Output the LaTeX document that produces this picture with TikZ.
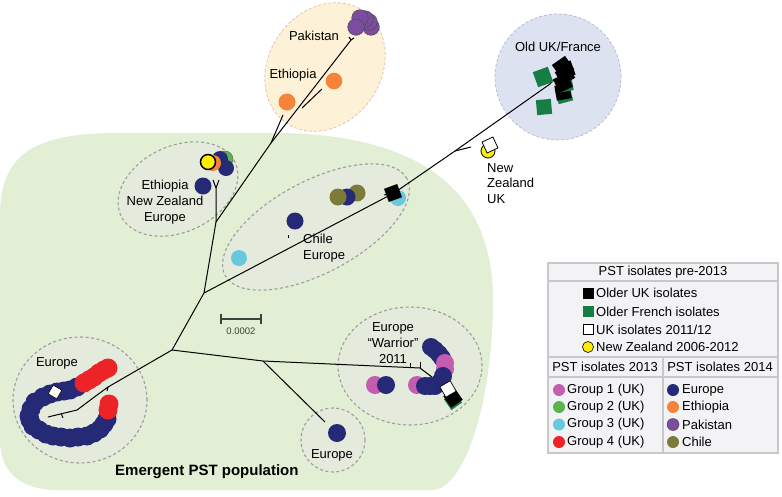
\documentclass[tikz,border=0pt]{standalone}
\usepackage{fontspec}
\setmainfont{Liberation Sans}
\definecolor{bggreen}{RGB}{226,239,212}
\definecolor{ellfill}{RGB}{228,234,220}
\definecolor{ellline}{RGB}{155,158,155}
\definecolor{pakfill}{RGB}{253,242,215}
\definecolor{pakline}{RGB}{232,185,175}
\definecolor{ukfill}{RGB}{221,226,240}
\definecolor{ukline}{RGB}{180,186,210}
\definecolor{cblue}{RGB}{38,42,118}
\definecolor{cred}{RGB}{236,36,40}
\definecolor{cpink}{RGB}{196,92,176}
\definecolor{cgreen}{RGB}{92,180,78}
\definecolor{ccyan}{RGB}{104,200,220}
\definecolor{corange}{RGB}{245,132,56}
\definecolor{cpurple}{RGB}{124,76,160}
\definecolor{colive}{RGB}{124,124,56}
\definecolor{csqgreen}{RGB}{22,126,66}
\definecolor{cyellow}{RGB}{255,238,0}
\definecolor{legfill}{RGB}{243,242,245}
\definecolor{legline}{RGB}{200,200,204}
\definecolor{scalec}{RGB}{58,68,58}
\begin{document}
\begin{tikzpicture}[x=1pt,y=-1pt,
  tree/.style={line width=1pt,black},
  grp/.style={draw=ellline,dash pattern=on 3pt off 2.5pt,line width=1.1pt,fill=ellfill},
  lab/.style={font=\fontsize{13}{15}\selectfont,inner sep=0pt},
  sqm/.style={rectangle,inner sep=0pt,minimum size=#1},
  sqm/.default=15pt]
\useasboundingbox (0,0) rectangle (782,496);
% background population
\fill[bggreen] (0,215) .. controls (0,150) and (40,133) .. (120,133) -- (280,133)
  .. controls (420,135) and (493,190) .. (493,300)
  .. controls (493,400) and (465,490) .. (432,490) -- (58,490)
  .. controls (18,490) and (0,470) .. (0,440) -- cycle;
% group outlines
\draw[grp,rotate around={25:(178,189)}] (178,189) ellipse [x radius=63pt,y radius=43pt];
\draw[grp,rotate around={28:(316,227)}] (316,227) ellipse [x radius=103pt,y radius=46pt];
\draw[grp] (80,400) ellipse [x radius=67pt,y radius=63pt];
\draw[grp] (410,366) ellipse [x radius=72pt,y radius=59pt];
\draw[grp] (333,440) circle (32pt);
\draw[draw=pakline,fill=pakfill,dash pattern=on 3pt off 2pt,line width=0.7pt,rotate around={55:(325,67)}] (325,67) ellipse [x radius=68pt,y radius=56pt];
\draw[draw=ukline,fill=ukfill,dash pattern=on 3pt off 2pt,line width=0.7pt] (558,77) circle (63pt);
% tree coordinates
\coordinate (A) at (172,350);
\coordinate (B) at (204,293);
\coordinate (D) at (216,222);
\coordinate (Dt) at (216,188);
\coordinate (J1) at (271,143);
\coordinate (E1) at (283,115);
\coordinate (Br1) at (302,108);
\coordinate (Br1e) at (322,89);
\coordinate (P) at (351,40);
\coordinate (X) at (394,193);
\coordinate (N) at (455,151);
\coordinate (Ne) at (471,147);
\coordinate (O) at (550,84);
\coordinate (F) at (263,361);
\coordinate (W) at (420,368);
\coordinate (We) at (432,377);
\coordinate (S) at (325,422);
\coordinate (L1) at (108,387);
\coordinate (L2) at (93,398);
\coordinate (L3) at (77,410);
\coordinate (L4) at (48,417);
% tree
\draw[tree] (A) -- (B) -- (D) -- (Dt);
\draw[tree] (Dt) -- ++(-3,-8);
\draw[tree] (Dt) -- ++(3,-8);
\draw[tree] (D) -- (J1) -- (E1);
\draw[tree] (J1) -- (P);
\draw[tree] (P) -- ++(-2,-3);
\draw[tree] (P) -- ++(3,-2);
\draw[tree] (Br1) -- (Br1e);
\draw[tree] (B) -- (X) -- (N) -- (O);
\draw[tree] (N) -- (Ne);
\draw[tree] (O) -- ++(4,-4);
\draw[tree] (X) -- ++(-10,2);
\draw[tree] (A) -- (F) -- (W) -- (We);
\draw[tree] (W) -- ++(0,-6);
\draw[tree] (410,367.3) -- ++(0,-4);
\draw[tree] (F) -- (S);
\draw[tree] (A) -- (L1) -- (L2) -- (L3) -- (L4);
\draw[tree] (L1) -- ++(-1,4);
\draw[tree] (61,413) -- ++(2,5);
\draw[tree] (288,238) -- ++(0,-3);
% scale bar
\coordinate (sb1) at (221,319);
\coordinate (sb2) at (261,319);
\draw[scalec,line width=1.2pt] (sb1) -- (sb2);
\draw[scalec,line width=1.2pt] (sb1) ++(0,-5) -- ++(0,10);
\draw[scalec,line width=1.2pt] (sb2) ++(0,-5) -- ++(0,10);
\node[inner sep=0pt,text=scalec,font=\fontsize{9.5}{11}\selectfont] (sbl) at (241,331) {0.0002};
% Pakistan / Ethiopia markers
\foreach \x/\y in {371/27,369/22,365/19,360/18,356/27}
  \filldraw[fill=cpurple,draw=black!70,line width=0.5pt] (\x,\y) circle (8.3pt);
\fill[corange] (334,81) circle (8.3pt);
\fill[corange] (287,102) circle (8.5pt);
\node[lab] (tPak) at (314,36) {Pakistan};
\node[lab] (tEth) at (293,75) {Ethiopia};
% Old UK / France
\node[sqm=16pt,fill=csqgreen,rotate=20] (g1) at (543,77) {};
\node[sqm=15pt,fill=csqgreen,rotate=5] (g2) at (544,107) {};
\node[sqm=15pt,fill=csqgreen,rotate=15] (g3) at (564,95) {};
\node[sqm=15pt,fill=black,rotate=10] (k5) at (563,92) {};
\node[sqm=15pt,fill=csqgreen,rotate=10] (g4) at (565,84) {};
\node[sqm=15pt,fill=black,rotate=25] (k4) at (563,83) {};
\node[sqm=15pt,fill=black,rotate=30] (k3) at (565,75) {};
\node[sqm=16pt,fill=black,rotate=35] (k2) at (563,67) {};
\node[sqm=15pt,fill=black,rotate=20] (k1) at (566,70) {};
\node[lab] (tOld) at (558,47) {Old UK/France};
% New Zealand / UK
\filldraw[fill=cyellow,draw=black,line width=0.8pt] (488,151) circle (7pt);
\node[sqm=12pt,fill=white,draw=black,line width=0.8pt,rotate=25] (w1) at (490,145) {};
\node[lab,align=left,anchor=north west,font=\fontsize{13}{15.5}\selectfont] (tNZ) at (487,163) {New\\Zealand\\UK};
% Ethiopia / NZ / Europe group
\filldraw[fill=cgreen,draw=black!60,line width=0.5pt] (225,159) circle (8pt);
\fill[cblue] (226,168) circle (8pt);
\fill[cblue] (220,159) circle (8pt);
\fill[corange] (213,163) circle (8pt);
\filldraw[fill=cyellow,draw=black,line width=1.5pt] (208,162) circle (7.5pt);
\fill[cblue] (203,186) circle (8.5pt);
\node[lab,align=center,font=\fontsize{13}{15.7}\selectfont] (tENE) at (165,202) {Ethiopia\\New Zealand\\Europe};
% Chile / Europe group
\fill[ccyan] (239,258) circle (8pt);
\fill[cblue] (295,221) circle (8.5pt);
\fill[colive] (357,193) circle (8.5pt);
\fill[cblue] (347,197) circle (8.5pt);
\fill[colive] (338,197) circle (8.5pt);
\fill[ccyan] (398,198) circle (8pt);
\node[sqm=14pt,fill=black,rotate=20] (k6) at (393,193) {};
\node[lab,align=left,anchor=west,font=\fontsize{13}{15.5}\selectfont] (tCE) at (303,248) {Chile\\Europe};
% bottom-left Europe
\foreach \x/\y in {29/416,31/409,35/402,43/397,50/394,57/392,64/391,70/390,77/387,
                   30/420,33/426,39/430,46/434,53/436,61/437,70/438,78/437,87/436,94/433,100/429,104/424,107/419}
  \fill[cblue] (\x,\y) circle (9.5pt);
\foreach \x/\y in {84/383,89/380,94/377,99/373,104/370,108/368,109/404,108/410}
  \fill[cred] (\x,\y) circle (9.5pt);
\node[sqm=10pt,fill=white,draw=black,line width=0.6pt,rotate=-30] (w2) at (55,392) {};
\node[lab] (tBL) at (57,363) {Europe};
% Warrior group
\fill[cpink] (375,385) circle (9pt);
\fill[cblue] (386,385) circle (9pt);
\fill[cpink] (417,385) circle (9pt);
\foreach \x/\y in {431/347,435/350,439/354,442/358}
  \fill[cblue] (\x,\y) circle (9pt);
\fill[cpink] (445,363) circle (9pt);
\fill[cpink] (445,369) circle (9pt);
\foreach \x/\y in {443/376,440/382,435/386,430/386,425/386}
  \fill[cblue] (\x,\y) circle (9pt);
\node[sqm=13pt,fill=csqgreen,rotate=35] (g5) at (453,401) {};
\node[sqm=14pt,fill=black,rotate=35] (k7) at (453,398) {};
\node[sqm=12pt,fill=white,draw=black,line width=0.7pt,rotate=30] (w3) at (448,389) {};
\node[lab,align=center,font=\fontsize{13}{16}\selectfont] (tWar) at (393,343) {Europe\\“Warrior”\\2011};
% small Europe
\fill[cblue] (337,433) circle (9pt);
\node[lab] (tSE) at (332,455) {Europe};
% population label
\node[lab,font=\bfseries\fontsize{15}{17}\selectfont,anchor=west] (tPop) at (115,472) {Emergent PST population};
% legend
\filldraw[fill=legfill,draw=legline,line width=1.3pt] (548,263) rectangle (778,453);
\draw[legline,line width=1.1pt] (548,281) -- (778,281);
\draw[legline,line width=1.3pt] (548,357) -- (778,357);
\draw[legline,line width=1.1pt] (548,377) -- (778,377);
\draw[legline,line width=1.3pt] (663,357) -- (663,453);
\node[lab] (h1) at (663,272) {PST isolates pre-2013};
\node[sqm=11pt,fill=black] (i1) at (588,293) {};
\node[sqm=11pt,fill=csqgreen] (i2) at (588,311.5) {};
\node[sqm=10pt,fill=white,draw=black,line width=0.6pt] (i3) at (588,329.5) {};
\filldraw[fill=cyellow,draw=black,line width=0.6pt] (588,347) circle (5.5pt);
\node[lab,anchor=west] (l1) at (596,293) {Older UK isolates};
\node[lab,anchor=west] (l2) at (596,311.5) {Older French isolates};
\node[lab,anchor=west] (l3) at (596,329.5) {UK isolates 2011/12};
\node[lab,anchor=west] (l4) at (596,347) {New Zealand 2006-2012};
\node[lab] (h2) at (605,367) {PST isolates 2013};
\node[lab] (h3) at (720,367) {PST isolates 2014};
\foreach \c/\t/\y [count=\i] in {cpink/Group 1 (UK)/390,cgreen/Group 2 (UK)/407,ccyan/Group 3 (UK)/424.5,cred/Group 4 (UK)/442}{
  \fill[\c] (559,\y) circle (6pt);
  \node[lab,anchor=west] (ga\i) at (567,\y) {\t};
}
\foreach \c/\t/\y [count=\i] in {cblue/Europe/390,corange/Ethiopia/407,cpurple/Pakistan/424.5,colive/Chile/442}{
  \fill[\c] (673,\y) circle (6pt);
  \node[lab,anchor=west] (gb\i) at (682,\y) {\t};
}
\draw[black!70,line width=0.5pt] (673,424.5) circle (6pt);
\end{tikzpicture}
\end{document}
